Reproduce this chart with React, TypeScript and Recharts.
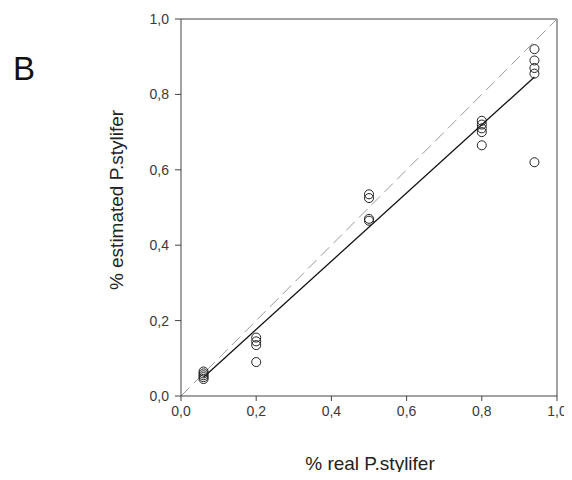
import { ScatterChart, Scatter, XAxis, YAxis, ZAxis, ReferenceLine } from "recharts";

const realPct = [0.06, 0.06, 0.06, 0.06, 0.06, 0.2, 0.2, 0.2, 0.2, 0.5, 0.5, 0.5, 0.5, 0.8, 0.8, 0.8, 0.8, 0.8, 0.94, 0.94, 0.94, 0.94, 0.94];
const estPct = [0.045, 0.05, 0.055, 0.06, 0.065, 0.155, 0.145, 0.135, 0.09, 0.535, 0.525, 0.47, 0.465, 0.73, 0.72, 0.71, 0.7, 0.665, 0.92, 0.89, 0.87, 0.855, 0.62];
const fitX = [0.06, 0.94];
const fitY = [0.05, 0.846];
const ticks = [0, 0.2, 0.4, 0.6, 0.8, 1];

const points = realPct.map((x, i) => ({ x, y: estPct[i] }));
const fit = fitX.map((x, i) => ({ x, y: fitY[i] }));
const fmt = (v: number) => v.toFixed(1).replace(".", ",");

const font = "'Liberation Sans', Arial, sans-serif";
const axisColor = "#444";

export default function App() {
  return (
    <div style={{ position: "relative", width: 564, height: 464, fontFamily: font }}>
      <style>{".recharts-surface{overflow:visible}"}</style>
      <ScatterChart
        width={564}
        height={464}
        margin={{ top: 11, right: 15, left: 113, bottom: 46 }}
      >
        <XAxis
          type="number"
          dataKey="x"
          domain={[0, 1]}
          ticks={ticks}
          tickFormatter={fmt}
          stroke={axisColor}
          tickSize={5}
          tickMargin={5}
          interval={0}
          tick={{ fill: "#3a3a3a", fontSize: 14, fontFamily: font }}
          height={30}
        />
        <YAxis
          type="number"
          dataKey="y"
          domain={[0, 1]}
          ticks={ticks}
          tickFormatter={fmt}
          stroke={axisColor}
          tickSize={6}
          tickMargin={6}
          width={60}
          interval={0}
          tick={{ fill: "#3a3a3a", fontSize: 14, fontFamily: font }}
        />
        <ZAxis range={[85, 85]} />
        <ReferenceLine y={1} stroke={axisColor} />
        <ReferenceLine x={1} stroke={axisColor} />
        <ReferenceLine
          segment={[{ x: 0, y: 0 }, { x: 1, y: 1 }]}
          stroke="#999"
          strokeDasharray="12 6"
        />
        <Scatter
          data={fit}
          line={{ stroke: "#111", strokeWidth: 1.3 }}
          shape={() => null}
          isAnimationActive={false}
        />
        <Scatter
          data={points}
          fill="none"
          stroke="#222"
          strokeWidth={1}
          isAnimationActive={false}
        />
      </ScatterChart>
      <div style={{ position: "absolute", left: 5, top: 44, fontSize: 33, color: "#111", lineHeight: 1 }}>B</div>
      <div
        style={{
          position: "absolute",
          left: 109,
          top: 192,
          fontSize: 19,
          color: "#222",
          whiteSpace: "nowrap",
          transform: "translate(-50%, -50%) rotate(-90deg)",
        }}
      >
        % estimated P.stylifer
      </div>
      <div
        style={{
          position: "absolute",
          left: 362,
          top: 456,
          fontSize: 19,
          color: "#222",
          whiteSpace: "nowrap",
          transform: "translate(-50%, -50%)",
        }}
      >
        % real P.stylifer
      </div>
    </div>
  );
}
